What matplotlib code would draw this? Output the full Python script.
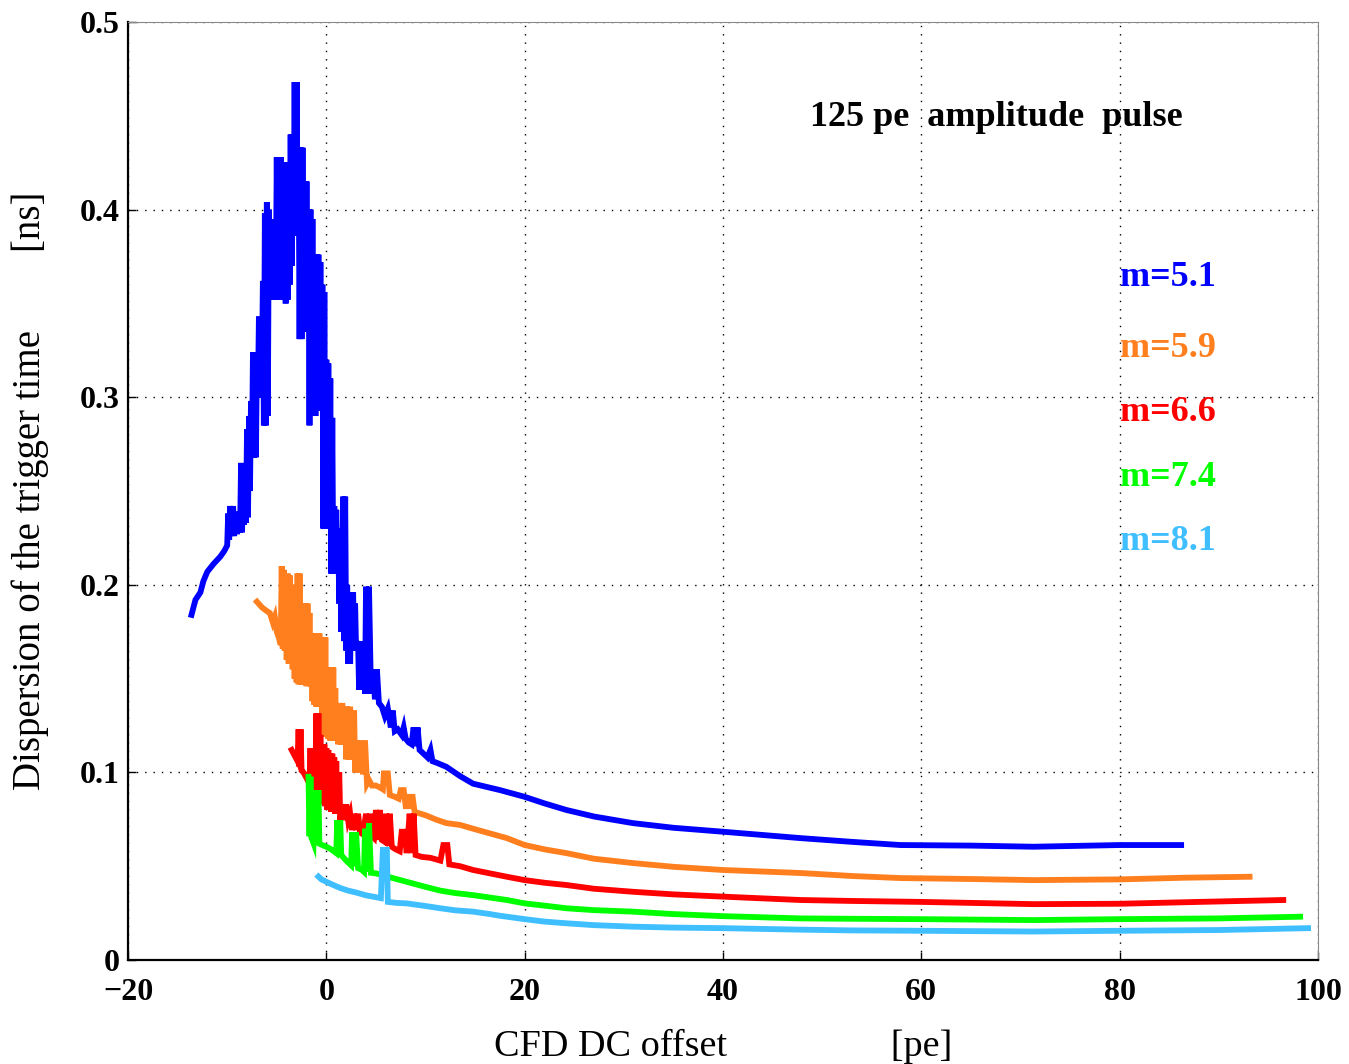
import matplotlib
matplotlib.use('Agg')
from matplotlib import pyplot as plt

plt.rcParams['font.family'] = ['Liberation Serif', 'DejaVu Serif']

# m=5.1 (blue)
x_m51 = [-13.6, -13.2, -12.7, -12.4, -12.0, -11.4, -10.7, -10.3,
         -10.0, -9.9, -9.8, -9.7, -9.55, -9.4, -9.3, -9.15, -9.0, -8.85, -8.7, -8.6,
         -8.5, -8.4, -8.3, -8.2, -8.1, -8.0, -7.9, -7.8, -7.7, -7.6, -7.5, -7.4,
         -7.3, -7.2, -7.1, -7.0, -6.9, -6.8, -6.7, -6.6, -6.5, -6.4, -6.3, -6.2,
         -6.1, -6.0, -5.9, -5.8, -5.7, -5.6, -5.5, -5.4, -5.3, -5.2, -5.1, -5.0,
         -4.9, -4.8, -4.7, -4.6, -4.5, -4.4, -4.3, -4.2, -4.1, -4.0, -3.9, -3.8,
         -3.7, -3.6, -3.5, -3.4, -3.3, -3.2, -3.1, -3.0, -2.9, -2.8, -2.7, -2.6,
         -2.5, -2.4, -2.3, -2.2, -2.1, -2.0, -1.9, -1.8, -1.7, -1.6, -1.5, -1.4,
         -1.3, -1.2, -1.1, -1.0, -0.9, -0.8, -0.7, -0.6, -0.5, -0.4, -0.3, -0.2,
         -0.1, 0.0, 0.1, 0.2, 0.3, 0.4, 0.5, 0.6, 0.7, 0.8, 0.9, 1.0,
         1.1, 1.2, 1.3, 1.4, 1.5, 1.7, 1.8, 1.9, 2.0, 2.1, 2.2, 2.3,
         2.4, 2.5, 2.6, 2.7, 2.8, 2.9, 3.0, 3.2, 3.3, 3.5, 3.6, 3.8,
         3.9, 4.0, 4.2, 4.3, 4.5, 4.7, 4.9, 5.1, 5.3, 5.6, 5.9, 6.2,
         6.5, 6.7, 6.9, 7.2, 7.6, 7.8, 8.0, 8.3, 8.6, 8.8, 9.0, 9.2,
         9.4, 9.8, 10.2, 10.5, 10.7, 11.2, 12.1, 13.5, 14.8, 16.0, 17.5, 20.0,
         22.0, 24.2, 27.0, 30.9, 35.0, 40.0, 47.8, 53.0, 57.9, 65.0, 71.3, 80.0, 86.2]
y_m51 = [0.184, 0.192, 0.196, 0.202, 0.207, 0.211, 0.215, 0.218,
         0.221, 0.238, 0.224, 0.242, 0.226, 0.242, 0.226, 0.239, 0.227, 0.238, 0.228, 0.265,
         0.228, 0.262, 0.232, 0.250, 0.233, 0.283, 0.236, 0.290, 0.250, 0.298, 0.268, 0.324,
         0.268, 0.320, 0.268, 0.322, 0.300, 0.343, 0.300, 0.342, 0.310, 0.362, 0.285, 0.398,
         0.285, 0.404, 0.290, 0.400, 0.355, 0.395, 0.352, 0.390, 0.352, 0.392, 0.355, 0.428,
         0.355, 0.427, 0.352, 0.428, 0.360, 0.425, 0.352, 0.425, 0.350, 0.424, 0.352, 0.425,
         0.360, 0.440, 0.370, 0.440, 0.386, 0.468, 0.386, 0.468, 0.390, 0.433, 0.331, 0.433,
         0.331, 0.433, 0.340, 0.415, 0.340, 0.415, 0.335, 0.400, 0.285, 0.400, 0.290, 0.395,
         0.290, 0.369, 0.290, 0.376, 0.293, 0.376, 0.293, 0.372, 0.295, 0.360, 0.230, 0.356,
         0.230, 0.320, 0.230, 0.318, 0.232, 0.310, 0.206, 0.289, 0.206, 0.242, 0.206, 0.240,
         0.206, 0.228, 0.190, 0.230, 0.175, 0.247, 0.170, 0.247, 0.165, 0.200, 0.158, 0.196,
         0.158, 0.196, 0.165, 0.196, 0.165, 0.190, 0.165, 0.170, 0.144, 0.170, 0.145, 0.168,
         0.142, 0.199, 0.142, 0.199, 0.142, 0.155, 0.139, 0.155, 0.137, 0.135, 0.130, 0.134,
         0.124, 0.133, 0.122, 0.123, 0.120, 0.124, 0.118, 0.116, 0.115, 0.124, 0.114, 0.124,
         0.112, 0.110, 0.108, 0.112, 0.106, 0.105, 0.103, 0.098, 0.094, 0.0925, 0.0906, 0.087,
         0.0835, 0.080, 0.0765, 0.073, 0.0705, 0.0684, 0.065, 0.063, 0.0613, 0.061, 0.0604, 0.0613, 0.0613]

# m=5.9 (orange)
x_m59 = [-7.0, -6.5, -6.0, -5.7, -5.4, -5.2, -5.0, -4.8, -4.6, -4.5, -4.4, -4.3,
         -4.2, -4.1, -4.0, -3.9, -3.8, -3.7, -3.6, -3.5, -3.4, -3.3, -3.2, -3.1,
         -3.0, -2.9, -2.8, -2.7, -2.6, -2.5, -2.4, -2.3, -2.2, -2.1, -2.0, -1.9,
         -1.8, -1.7, -1.6, -1.5, -1.4, -1.3, -1.2, -1.1, -1.0, -0.9, -0.8, -0.7,
         -0.6, -0.5, -0.4, -0.3, -0.2, -0.1, 0.0, 0.1, 0.2, 0.3, 0.4, 0.5,
         0.6, 0.7, 0.8, 0.9, 1.0, 1.1, 1.2, 1.3, 1.5, 1.6, 1.8, 1.9,
         2.0, 2.1, 2.3, 2.4, 2.6, 2.8, 2.9, 3.1, 3.3, 3.5, 3.7, 3.9,
         4.1, 4.3, 4.6, 5.0, 5.4, 5.7, 5.8, 6.2, 6.4, 6.9, 7.3, 7.5,
         7.8, 8.0, 8.3, 8.4, 8.7, 8.9, 9.5, 10.1, 11.0, 12.1, 13.5, 14.8,
         16.5, 18.2, 20.0, 22.0, 24.2, 27.0, 30.9, 35.0, 40.0, 47.8, 53.0, 57.9,
         65.0, 71.3, 80.0, 86.7, 93.1]
y_m59 = [0.191, 0.188, 0.186, 0.185, 0.180, 0.183, 0.175, 0.172, 0.168, 0.210, 0.166, 0.208,
         0.165, 0.205, 0.160, 0.206, 0.158, 0.205, 0.158, 0.200, 0.155, 0.196, 0.150, 0.200,
         0.148, 0.206, 0.147, 0.206, 0.147, 0.190, 0.147, 0.185, 0.150, 0.190, 0.146, 0.190,
         0.146, 0.185, 0.146, 0.174, 0.138, 0.174, 0.136, 0.174, 0.135, 0.174, 0.136, 0.174,
         0.135, 0.172, 0.120, 0.172, 0.119, 0.172, 0.119, 0.156, 0.118, 0.156, 0.117, 0.150,
         0.117, 0.156, 0.117, 0.145, 0.117, 0.137, 0.115, 0.137, 0.115, 0.137, 0.115, 0.135,
         0.107, 0.135, 0.107, 0.135, 0.107, 0.133, 0.100, 0.117, 0.100, 0.117, 0.099, 0.117,
         0.094, 0.096, 0.093, 0.093, 0.092, 0.091, 0.0995, 0.0995, 0.088, 0.087, 0.086, 0.0906,
         0.0906, 0.082, 0.082, 0.087, 0.087, 0.079, 0.078, 0.077, 0.075, 0.073, 0.072, 0.070,
         0.0675, 0.065, 0.0613, 0.059, 0.057, 0.054, 0.0517, 0.0497, 0.048, 0.0464, 0.0448, 0.0437,
         0.0432, 0.0426, 0.043, 0.0439, 0.0444]

# m=6.6 (red)
x_m66 = [-3.5, -3.2, -2.9, -2.8, -2.7, -2.6, -2.5, -2.3, -2.0, -1.7, -1.6, -1.5,
         -1.4, -1.3, -1.2, -1.1, -1.0, -0.9, -0.8, -0.7, -0.6, -0.5, -0.4, -0.3,
         -0.2, -0.1, 0.0, 0.1, 0.2, 0.3, 0.4, 0.5, 0.6, 0.7, 0.8, 0.9,
         1.0, 1.1, 1.3, 1.4, 1.6, 1.8, 2.0, 2.2, 2.4, 2.6, 2.8, 3.0,
         3.2, 3.4, 3.7, 4.0, 4.2, 4.4, 4.6, 4.8, 5.0, 5.2, 5.4, 5.6,
         5.9, 6.0, 6.2, 6.4, 6.6, 7.0, 7.4, 7.6, 7.9, 8.1, 8.4, 8.6,
         8.8, 9.0, 9.6, 10.5, 11.5, 11.8, 12.2, 12.4, 13.5, 14.8, 16.5, 18.2,
         20.0, 22.0, 24.2, 27.0, 30.9, 35.0, 40.0, 47.8, 53.0, 59.9, 71.3, 80.0,
         88.1, 96.5]
y_m66 = [0.112, 0.109, 0.106, 0.123, 0.103, 0.123, 0.101, 0.100, 0.097, 0.094, 0.113, 0.091,
         0.113, 0.091, 0.113, 0.090, 0.1315, 0.089, 0.1315, 0.089, 0.120, 0.084, 0.113, 0.083,
         0.115, 0.082, 0.113, 0.080, 0.112, 0.080, 0.110, 0.079, 0.110, 0.079, 0.108, 0.078,
         0.106, 0.078, 0.100, 0.0746, 0.083, 0.0746, 0.083, 0.0746, 0.078, 0.0693, 0.078, 0.0693,
         0.078, 0.068, 0.067, 0.078, 0.066, 0.078, 0.066, 0.065, 0.080, 0.064, 0.080, 0.064,
         0.063, 0.078, 0.061, 0.078, 0.0604, 0.059, 0.058, 0.0684, 0.0684, 0.057, 0.078, 0.057,
         0.078, 0.056, 0.055, 0.0545, 0.053, 0.0613, 0.0613, 0.051, 0.050, 0.048, 0.0462, 0.0444,
         0.0426, 0.0412, 0.040, 0.038, 0.0364, 0.035, 0.0338, 0.032, 0.0315, 0.031, 0.0298, 0.030,
         0.031, 0.032]

# m=7.4 (green)
x_m74 = [-1.8, -1.7, -1.6, -1.5, -1.4, -1.3, -1.2, -1.1, -1.0, -0.9, -0.8, -0.7,
         -0.3, 0.0, 0.5, 1.0, 1.1, 1.3, 1.4, 1.5, 2.0, 2.5, 2.6, 2.8,
         3.0, 3.2, 3.6, 3.8, 3.9, 4.1, 4.3, 4.5, 5.0, 6.5, 8.1, 10.0,
         11.5, 13.0, 14.8, 16.5, 18.2, 20.0, 22.0, 24.2, 27.0, 30.9, 35.0, 40.0,
         47.8, 53.0, 59.9, 71.3, 80.0, 90.0, 98.2]
y_m74 = [0.0977, 0.066, 0.0977, 0.065, 0.064, 0.0625, 0.0906, 0.0622, 0.0906, 0.0622, 0.0906, 0.062,
         0.061, 0.0604, 0.059, 0.057, 0.0746, 0.057, 0.0746, 0.056, 0.053, 0.0505, 0.068, 0.050,
         0.068, 0.049, 0.048, 0.047, 0.070, 0.047, 0.073, 0.0465, 0.0462, 0.044, 0.0417, 0.039,
         0.037, 0.0357, 0.0346, 0.0333, 0.032, 0.0302, 0.029, 0.0276, 0.0266, 0.0258, 0.0245, 0.0234,
         0.0222, 0.022, 0.0218, 0.0213, 0.0218, 0.0222, 0.0231]

# m=8.1 (light blue)
x_m81 = [-0.8, -0.5, 0.0, 0.7, 1.4, 2.2, 3.0, 4.0, 4.7, 5.5, 5.7, 6.1,
         6.2, 7.0, 8.1, 10.0, 11.5, 13.0, 14.8, 16.5, 17.5, 20.0, 22.0, 24.2,
         27.0, 30.9, 35.0, 40.0, 47.8, 53.0, 59.9, 71.3, 80.0, 90.0, 99.0]
y_m81 = [0.0445, 0.043, 0.0417, 0.040, 0.0384, 0.037, 0.036, 0.0345, 0.0338, 0.033, 0.0587, 0.0587,
         0.031, 0.0305, 0.0302, 0.0288, 0.0276, 0.0265, 0.0258, 0.0245, 0.0236, 0.0218, 0.0205, 0.0196,
         0.0186, 0.0178, 0.0173, 0.0170, 0.0162, 0.0158, 0.0156, 0.0152, 0.0156, 0.0160, 0.017]

labels = ['m=5.1', 'm=5.9', 'm=6.6', 'm=7.4', 'm=8.1']
colors = ['#0000ff', '#ff7f1f', '#ff0000', '#00ff00', '#3fbfff']
label_y = [0.364, 0.326, 0.2916, 0.257, 0.2233]

fig = plt.figure(figsize=(13.49, 10.64), dpi=100)
ax = fig.add_axes([0.0949, 0.0977, 0.8821, 0.8816])

series = [(x_m51, y_m51), (x_m59, y_m59), (x_m66, y_m66), (x_m74, y_m74), (x_m81, y_m81)]
for (xs, ys), c in zip(series, colors):
    ax.plot(xs, ys, color=c, lw=4.2, solid_joinstyle='miter')

for lab, c, ly in zip(labels, colors, label_y):
    ax.text(80.0, ly, lab, color=c, fontsize=26, fontweight='bold', va='center', ha='left')

ax.text(48.8, 0.449, '125 pe  amplitude  pulse', fontsize=26, fontweight='bold',
        va='center', ha='left')

ax.set_xlim(-20, 100)
ax.set_ylim(0, 0.5)
ax.set_xticks([-20, 0, 20, 40, 60, 80, 100])
ax.set_xticklabels(['\u221220', '0', '20', '40', '60', '80', '100'])
ax.set_yticks([0, 0.1, 0.2, 0.3, 0.4, 0.5])
ax.set_yticklabels(['0', '0.1', '0.2', '0.3', '0.4', '0.5'])

ax.grid(True, color='black', linestyle=(0, (1, 5)), lw=1.0)
ax.tick_params(axis='both', direction='in', length=6, width=1, labelsize=23)
ax.tick_params(axis='x', pad=13)
ax.tick_params(axis='y', pad=6)
for t in ax.get_xticklabels() + ax.get_yticklabels():
    t.set_fontweight('bold')

ax.spines['left'].set_linewidth(1.6)
ax.spines['bottom'].set_linewidth(1.6)
ax.spines['top'].set_color('#888888')
ax.spines['right'].set_color('#888888')

ax.set_xlabel('CFD DC offset' + ' ' * 17 + '[pe]', fontsize=27.5, labelpad=16)
ax.set_ylabel('Dispersion of the trigger time' + ' ' * 8 + '[ns]', fontsize=28, labelpad=22)

fig.savefig('out.png', dpi=100)
